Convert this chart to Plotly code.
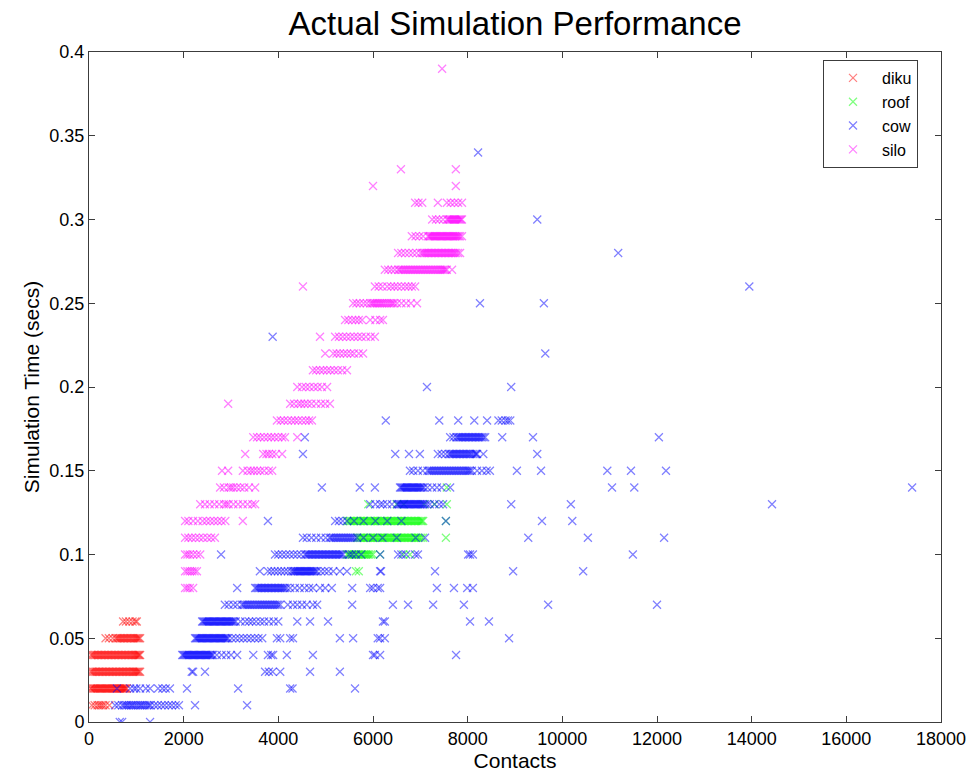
import plotly.graph_objects as go

# ---------------- data ----------------
series_names = ["diku", "roof", "cow", "silo"]
series_colors = ["#FF0000", "#00FF00", "#0000FF", "#FF00FF"]

# each series: simulation-time levels (secs) and contacts observed at each level
diku_levels = [0.01, 0.02, 0.03, 0.04, 0.05, 0.06]
diku_contacts = [
    [60, 120, 180, 220, 260, 300, 350, 430],
    [30, 80, 130, 180, 230, 280, 330, 380, 430, 480, 530, 580, 630, 680, 720, 760, 800,
     50, 105, 155, 205, 255, 305, 355, 405, 455, 505, 555, 605, 655, 700, 740, 780],
    [30, 90, 150, 210, 270, 330, 390, 450, 510, 570, 630, 690, 750, 810, 870, 930, 980, 1030, 1080,
     60, 120, 180, 240, 300, 360, 420, 480, 540, 600, 660, 720, 780, 840, 900, 955, 1005, 1055],
    [40, 100, 160, 220, 280, 340, 400, 460, 520, 580, 640, 700, 760, 820, 880, 940, 990, 1040, 1080,
     70, 130, 190, 250, 310, 370, 430, 490, 550, 610, 670, 730, 790, 850, 910, 965, 1015, 1060],
    [350, 420, 500, 560, 620, 680, 740, 800, 860, 920, 980, 1030, 1080,
     590, 650, 710, 770, 830, 890, 950, 1005, 1055],
    [720, 780, 850, 920, 980, 1010],
]

roof_levels = [0.09, 0.10, 0.11, 0.12, 0.13, 0.14]
roof_contacts = [
    [5640, 5700],
    [5450, 5500, 5560, 5620, 5680, 5740, 5800, 5860, 5920, 6000, 6150, 6640, 6780,
     5475, 5530, 5590, 5650, 5710, 5770, 5830, 5890, 5960],
    [5660, 5720, 5780, 5840, 5900, 5960, 6020, 6080, 6140, 6200, 6260, 6320, 6380, 6440, 6500,
     6560, 6620, 6680, 6740, 6800, 6860, 6920, 6980, 7060, 7540,
     5690, 5750, 5810, 5870, 5930, 5990, 6050, 6110, 6170, 6230, 6290, 6350, 6410, 6470, 6530,
     6590, 6650, 6710, 6770, 6830, 6890, 6950, 7020],
    [5450, 5510, 5570, 5630, 5690, 5750, 5810, 5870, 5930, 5990, 6050, 6110, 6170, 6230, 6290,
     6350, 6410, 6470, 6530, 6590, 6650, 6710, 6770, 6830, 6890, 6950, 7010, 7060, 7540,
     5480, 5540, 5600, 5660, 5720, 5780, 5840, 5900, 5960, 6020, 6080, 6140, 6200, 6260, 6320,
     6380, 6440, 6500, 6560, 6620, 6680, 6740, 6800, 6860, 6920, 6980, 7035],
    [5900, 6500, 6650, 7080, 7300, 7560],
    [7560],
]

cow_levels = [0.00, 0.01, 0.02, 0.03, 0.04, 0.05, 0.06, 0.07, 0.08, 0.09, 0.10, 0.11, 0.12,
              0.13, 0.14, 0.15, 0.16, 0.17, 0.18, 0.20, 0.22, 0.23, 0.25, 0.26, 0.28, 0.30, 0.34]
cow_contacts = [
    [650, 700, 1290],
    [550, 620, 700, 780, 850, 920, 1000, 1080, 1150, 1230, 1300, 1380, 1450, 1530, 1600, 1680,
     1750, 1830, 1900, 2240, 3340, 740, 810, 890, 960, 1040, 1110, 1190, 1270],
    [590, 870, 950, 1000, 1080, 1200, 1290, 1460, 1550, 1620, 1710, 2070, 3150, 4250, 4300, 5620],
    [2170, 2200, 2450, 3720, 3800, 3880, 4040, 4670, 5300],
    [1970, 2020, 2070, 2120, 2170, 2220, 2270, 2320, 2370, 2420, 2470, 2520, 2570, 2620, 2700,
     2800, 2900, 3000, 3130, 3470, 3780, 3850, 3890, 4180, 4730, 6000, 6040, 6150, 7755,
     1995, 2045, 2095, 2145, 2195, 2245, 2295, 2345, 2395, 2445, 2495, 2545, 2595],
    [2240, 2290, 2340, 2390, 2440, 2490, 2540, 2590, 2640, 2690, 2740, 2790, 2840, 2890, 2940,
     3020, 3100, 3180, 3260, 3340, 3420, 3500, 3580, 3660, 3970, 4040, 4250, 4310, 5300, 5580,
     6100, 6150, 6250, 8875,
     2265, 2315, 2365, 2415, 2465, 2515, 2565, 2615, 2665, 2715, 2765, 2815, 2865, 2915],
    [2390, 2440, 2490, 2540, 2590, 2640, 2690, 2740, 2790, 2840, 2890, 2940, 2990, 3040, 3100,
     3200, 3300, 3380, 3450, 3530, 3620, 3700, 3800, 3900, 4000, 4400, 4670, 5050, 6210, 6250,
     8050, 8450,
     2415, 2465, 2515, 2565, 2615, 2665, 2715, 2765, 2815, 2865, 2915, 2965, 3015, 3070],
    [2870, 2950, 3050, 3130, 3230, 3300, 3370, 3440, 3510, 3580, 3650, 3720, 3790, 3860, 3930,
     4000, 4040, 4200, 4310, 4400, 4500, 4600, 4730, 4820, 5560, 6420, 6740, 7270, 7920, 9700,
     12000, 3265, 3335, 3405, 3475, 3545, 3615, 3685, 3755, 3825, 3895, 3965],
    [3130, 3510, 3570, 3630, 3690, 3750, 3810, 3870, 3930, 3990, 4050, 4110, 4180, 4250, 4350,
     4450, 4550, 4650, 4730, 4880, 4990, 5130, 5560, 5940, 6000, 6100, 6150, 7350, 7710, 7990,
     8110, 3540, 3600, 3660, 3720, 3780, 3840, 3900, 3960, 4020, 4080, 4140],
    [3610, 3780, 3850, 3920, 3990, 4060, 4130, 4200, 4270, 4310, 4360, 4410, 4460, 4510, 4560,
     4610, 4660, 4710, 4760, 4820, 4900, 4980, 5060, 5160, 5300, 5450, 6150, 6170, 7310, 8960,
     10440, 4335, 4385, 4435, 4485, 4535, 4585, 4635, 4685, 4735, 4790],
    [2790, 3930, 4000, 4080, 4160, 4240, 4320, 4400, 4480, 4560, 4620, 4680, 4740, 4800, 4860,
     4920, 4980, 5040, 5100, 5160, 5220, 5280, 5340, 5370, 5500, 5560, 5640, 5750, 6150, 6530,
     6600, 6700, 6890, 6950, 8010, 8050, 8110, 11490,
     4590, 4650, 4710, 4770, 4830, 4890, 4950, 5010, 5070, 5130, 5190, 5250, 5310],
    [4520, 4600, 4700, 4800, 4900, 5000, 5080, 5150, 5220, 5290, 5360, 5430, 5500, 5570, 5660,
     5800, 6000, 6200, 6500, 6900, 7100, 9280, 10540, 12150,
     5110, 5185, 5255, 5325, 5395, 5465, 5535, 5610],
    [3780, 5200, 5280, 5360, 5450, 5600, 5800, 6050, 6300, 6600, 7540, 9570, 10210],
    [5940, 6050, 6150, 6210, 6300, 6400, 6510, 6560, 6610, 6660, 6710, 6760, 6810, 6860, 6910,
     6960, 7010, 7060, 7140, 7200, 7300, 7400, 7480, 8920, 10180, 14430,
     6535, 6585, 6635, 6685, 6735, 6785, 6835, 6885, 6935, 6985, 7035, 7100],
    [4920, 5720, 6040, 6570, 6620, 6670, 6720, 6770, 6820, 6870, 6920, 6970, 7020, 7080, 7150,
     7250, 7350, 7450, 7630, 11050, 11520, 17390,
     6595, 6645, 6695, 6745, 6795, 6845, 6895, 6945, 6995, 7050],
    [6780, 6850, 6950, 7050, 7150, 7220, 7290, 7360, 7430, 7500, 7570, 7640, 7710, 7780, 7850,
     7920, 7990, 8050, 8090, 8200, 8300, 8400, 8470, 9040, 9550, 10950, 11450, 12190,
     7185, 7255, 7325, 7395, 7465, 7535, 7605, 7675, 7745, 7815, 7885, 7955, 8020],
    [4520, 6470, 6760, 6990, 7370, 7450, 7530, 7600, 7660, 7720, 7780, 7840, 7900, 7960, 8020,
     8080, 8160, 8200, 8330, 9470,
     7630, 7690, 7750, 7810, 7870, 7930, 7990, 8050, 8120, 8180],
    [4560, 7630, 7700, 7760, 7820, 7880, 7940, 8000, 8060, 8120, 8180, 8240, 8300, 8370, 8730,
     9380, 12040, 7790, 7850, 7910, 7970, 8030, 8090, 8150, 8210, 8270, 8335],
    [6270, 7400, 7800, 8140, 8410, 8650, 8720, 8800, 8850, 8900],
    [7140, 8920],
    [9640],
    [3880],
    [8260, 9610],
    [13950],
    [11180],
    [9470],
    [8220],
]

silo_levels = [0.08, 0.09, 0.10, 0.11, 0.12, 0.13, 0.14, 0.15, 0.16, 0.17, 0.18, 0.19, 0.20,
               0.21, 0.22, 0.23, 0.24, 0.25, 0.26, 0.27, 0.28, 0.29, 0.30, 0.31, 0.32, 0.33, 0.39]
silo_contacts = [
    [2030, 2080, 2130, 2200],
    [2030, 2080, 2130, 2180, 2230, 2280],
    [2030, 2080, 2130, 2200, 2280, 2350],
    [2030, 2100, 2170, 2250, 2330, 2410, 2500, 2580, 2660],
    [2030, 2100, 2200, 2300, 2400, 2480, 2560, 2640, 2720, 2800, 2880, 3250],
    [2350, 2450, 2550, 2650, 2750, 2850, 2900, 2950, 3050, 3150, 3250, 3350, 3450, 3510],
    [2770, 2850, 2950, 3000, 3050, 3120, 3200, 3280, 3380, 3510],
    [2810, 2940, 3250, 3350, 3420, 3480, 3550, 3620, 3700, 3800, 3870],
    [3300, 3680, 3750, 3800, 3870, 3950, 4080],
    [3470, 3550, 3620, 3700, 3780, 3850, 3920, 4000, 4080, 4140, 4400],
    [3970, 4050, 4120, 4200, 4280, 4350, 4420, 4500, 4580, 4650, 4710],
    [2940, 4250, 4330, 4420, 4480, 4550, 4620, 4700, 4800, 4900, 4990, 5090],
    [4400, 4500, 4580, 4660, 4750, 4830, 4920, 5030],
    [4730, 4800, 4880, 4950, 5030, 5100, 5180, 5260, 5350, 5450],
    [4990, 5160, 5230, 5300, 5380, 5450, 5530, 5600, 5700, 5790],
    [4880, 5200, 5280, 5360, 5440, 5520, 5600, 5680, 5760, 5850, 5950, 6040],
    [5410, 5480, 5560, 5630, 5700, 5770, 5940, 6050, 6150, 6210],
    [5580, 5650, 5720, 5800, 5870, 5940, 6010, 6080, 6150, 6220, 6300, 6380, 6450, 6510, 6600,
     6700, 6800, 6930, 5980, 6045, 6115, 6185, 6260, 6340, 6415],
    [4520, 6040, 6120, 6200, 6300, 6380, 6450, 6520, 6600, 6680, 6750, 6820, 6890],
    [6250, 6320, 6390, 6460, 6530, 6600, 6670, 6740, 6810, 6880, 6950, 7020, 7090, 7160, 7230,
     7300, 7370, 7440, 7500, 7560, 7670,
     6560, 6635, 6705, 6775, 6845, 6915, 6985, 7055, 7125, 7195, 7265, 7335, 7405, 7470, 7530],
    [6530, 6600, 6680, 6760, 6840, 6920, 7000, 7040, 7100, 7160, 7220, 7280, 7340, 7400, 7460,
     7520, 7580, 7640, 7700, 7760, 7840,
     7070, 7130, 7190, 7250, 7310, 7370, 7430, 7490, 7550, 7610, 7670, 7730, 7800],
    [6820, 6900, 6980, 7060, 7160, 7210, 7260, 7310, 7360, 7410, 7460, 7510, 7560, 7610, 7660,
     7710, 7760, 7810, 7880,
     7185, 7235, 7285, 7335, 7385, 7435, 7485, 7535, 7585, 7635, 7685, 7735, 7785, 7840],
    [7250, 7330, 7400, 7480, 7560, 7610, 7660, 7710, 7760, 7810, 7860, 7880,
     7585, 7635, 7685, 7735, 7785, 7835],
    [6890, 6960, 7040, 7370, 7560, 7640, 7720, 7800, 7880],
    [6000, 7750],
    [6590, 7750],
    [7460],
]

x_ticks = [0, 2000, 4000, 6000, 8000, 10000, 12000, 14000, 16000, 18000]
y_ticks = [0, 0.05, 0.1, 0.15, 0.2, 0.25, 0.3, 0.35, 0.4]
y_tick_labels = ["0", "0.05", "0.1", "0.15", "0.2", "0.25", "0.3", "0.35", "0.4"]

# ---------------- figure ----------------
FONT = "Arial, 'Liberation Sans', Helvetica, sans-serif"
AXIS_COLOR = "#3c3c3c"


def flatten(levels, contacts):
    xs, ys = [], []
    for lvl, row in zip(levels, contacts):
        for c in row:
            xs.append(c)
            ys.append(lvl)
    return xs, ys


all_data = [
    (diku_levels, diku_contacts),
    (roof_levels, roof_contacts),
    (cow_levels, cow_contacts),
    (silo_levels, silo_contacts),
]

fig = go.Figure()
for name, color, (lv, ct) in zip(series_names, series_colors, all_data):
    xs, ys = flatten(lv, ct)
    fig.add_trace(go.Scatter(
        x=xs, y=ys, mode="markers", name=name,
        marker=dict(symbol="x-thin", size=8, opacity=0.5,
                    line=dict(color=color, width=1.2), color=color),
    ))

axis_common = dict(
    showline=True, linecolor=AXIS_COLOR, linewidth=1, mirror="allticks",
    ticks="inside", ticklen=6, tickcolor=AXIS_COLOR, tickwidth=1,
    showgrid=False, zeroline=False,
    tickfont=dict(family=FONT, size=18, color="#000000"),
)

fig.update_xaxes(range=[0, 18000], tickvals=x_ticks, ticktext=[str(v) for v in x_ticks],
                 title=dict(text="Contacts", font=dict(family=FONT, size=21, color="#000"),
                            standoff=2),
                 **axis_common)
fig.update_yaxes(range=[0, 0.4], tickvals=y_ticks, ticktext=y_tick_labels,
                 title=dict(text="Simulation Time (secs)",
                            font=dict(family=FONT, size=21, color="#000"), standoff=4),
                 **axis_common)

fig.update_layout(
    width=968, height=778,
    margin=dict(l=89, r=27, t=52, b=56, autoexpand=False),
    paper_bgcolor="white", plot_bgcolor="white",
    title=dict(text="Actual Simulation Performance", x=0.5, xref="paper",
               y=1 - 23 / 778, yref="container", yanchor="middle", xanchor="center",
               font=dict(family=FONT, size=33, color="#000")),
    legend=dict(x=0.8615, y=0.988, xanchor="left", yanchor="top",
                bgcolor="white", bordercolor=AXIS_COLOR, borderwidth=1,
                font=dict(family=FONT, size=16, color="#000"),
                tracegroupgap=0, itemwidth=48),
    showlegend=True,
)

fig.write_html("out.html", config={"displayModeBar": False},
               post_script="document.body.style.margin='0';document.body.style.overflow='hidden';")
